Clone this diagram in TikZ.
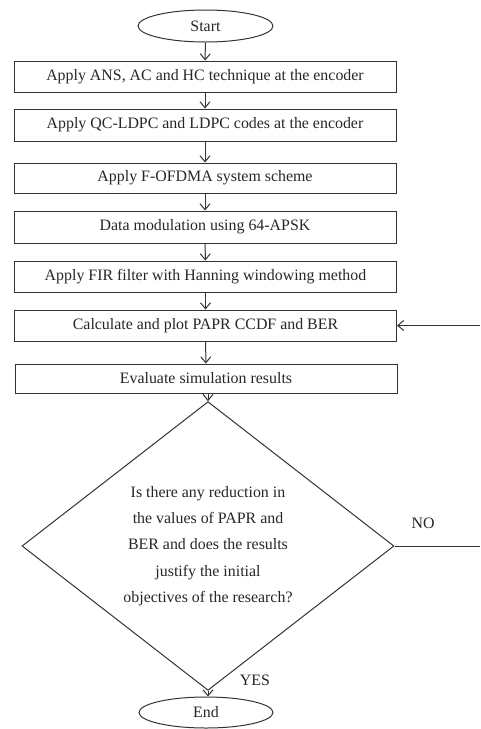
\documentclass[tikz,border=0pt]{standalone}
\usepackage{fontspec}
\setmainfont{Liberation Serif}
\usetikzlibrary{shapes.geometric,arrows.meta}
\begin{document}
\begin{tikzpicture}[x=1pt,y=-1pt,
  every node/.style={font=\fontsize{15.9}{16}\selectfont, text=black!85},
  line/.style={draw=black!80, line width=1pt},
  flow/.style={line, -{Straight Barb[length=6pt,width=10pt,line width=1pt]}},
  stepbox/.style={line, rectangle, minimum width=382pt, minimum height=31pt, inner sep=0pt},
  term/.style={line, ellipse, minimum width=135pt, minimum height=32pt, inner sep=0pt},
  decision/.style={line, diamond, minimum width=372pt, minimum height=266pt, inner sep=0pt,
    align=center, font=\fontsize{15.9}{26.3}\selectfont}
]
\useasboundingbox (0,0) rectangle (480,729);

\node[term] (start) at (205.5,26) {Start};
\node[stepbox] (s1) at (205,76.5) {Apply ANS, AC and HC technique at the encoder};
\node[stepbox, minimum height=32pt] (s2) at (205,125) {Apply QC-LDPC and LDPC codes at the encoder};
\node[stepbox, minimum height=30pt] (s3) at (205,178) {Apply F-OFDMA system scheme};
\node[stepbox, minimum height=32pt] (s4) at (205,227) {Data modulation using 64-APSK};
\node[stepbox] (s5) at (205.5,276.5) {Apply FIR filter with Hanning windowing method};
\node[stepbox] (s6) at (205.5,325.5) {Calculate and plot PAPR CCDF and BER};
\node[stepbox, minimum height=29pt] (s7) at (206,378.5) {Evaluate simulation results};
\node[decision] (dec) at (208,546) {Is there any reduction in\\the values of PAPR and\\BER and does the results\\justify the initial\\objectives of the research?};
\node[term, minimum height=31pt, minimum width=134pt] (end) at (206,712.5) {End};

\node (no) at (423,523) {NO};
\node (yes) at (255,680) {YES};

\coordinate (noedge) at (480,546);
\coordinate (backedge) at (480,325.5);

\draw[flow] (start) -- (s1);
\draw[flow] (s1) -- (s2);
\draw[flow] (s2) -- (s3);
\draw[flow] (s3) -- (s4);
\draw[flow] (s4) -- (s5);
\draw[flow] (s5) -- (s6);
\draw[flow] (s6) -- (s7);
\draw[flow] (s7.south -| dec.north) -- (dec.north);
\draw[flow] (dec.south) -- (end.north -| dec.south);
\draw[line] (dec.east) -- (noedge);
\draw[flow] (backedge) -- (s6.east);
\end{tikzpicture}
\end{document}
